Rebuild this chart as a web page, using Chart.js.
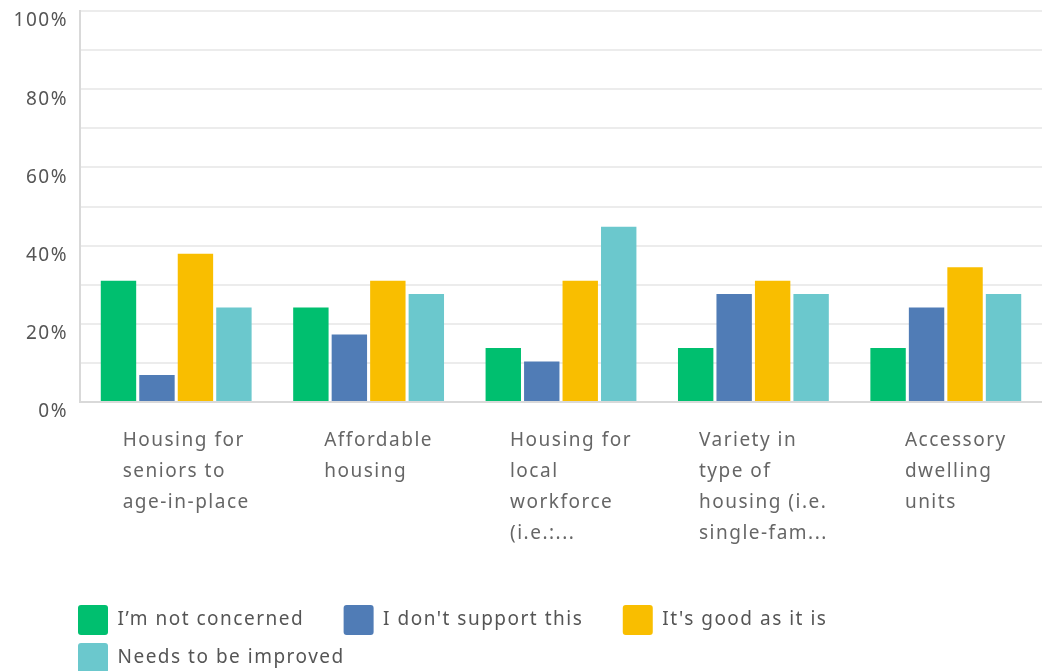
<!DOCTYPE html>
<html>
<head>
<meta charset="utf-8">
<script src="https://cdn.jsdelivr.net/npm/chart.js@4.4.1/dist/chart.umd.min.js"></script>
<style>
  html, body { margin: 0; padding: 0; background: #fff; }
  #wrap { width: 1042px; height: 671px; position: relative; }
</style>
</head>
<body>
<div id="wrap"><canvas id="housing-bar-chart"></canvas></div>
<script>
// categories (as shown, truncated like the original)
var categories = [
    ["Housing for", "seniors to", "age-in-place"],
    ["Affordable", "housing"],
    ["Housing for", "local", "workforce", "(i.e.:..."],
    ["Variety in", "type of", "housing (i.e.", "single-fam..."],
    ["Accessory", "dwelling", "units"]
];
var seriesNames = ["I\u2019m not concerned", "I don't support this", "It's good as it is", "Needs to be improved"];
var notConcerned = [31.03, 24.14, 13.79, 13.79, 13.79];
var dontSupport  = [6.90, 17.24, 10.34, 27.59, 24.14];
var goodAsIs     = [37.93, 31.03, 31.03, 31.03, 34.48];
var needsImprove = [24.14, 27.59, 44.83, 27.59, 27.59];
var yTickLabels = [0, 20, 40, 60, 80, 100];

var colors = ["#00bf6f", "#507cb6", "#f9be00", "#6bc8cd"];
var fontFamily = "'Noto Sans', sans-serif";
var letterSpacing = "1.5px";

// the original font is set wide, so space the letters a little
var spacing = {
    id: 'spacing',
    beforeUpdate: function(chart) { chart.ctx.letterSpacing = letterSpacing; },
    beforeDraw: function(chart) { chart.ctx.letterSpacing = letterSpacing; }
};

// left-aligned multi-line category labels under each group
var categoryLabels = {
    id: 'categoryLabels',
    afterDraw: function(chart) {
        var ctx = chart.ctx;
        var xScale = chart.scales.x;
        ctx.save();
        ctx.letterSpacing = letterSpacing;
        ctx.font = "19px " + fontFamily;
        ctx.fillStyle = "#666";
        ctx.textAlign = "left";
        ctx.textBaseline = "middle";
        categories.forEach(function(lines, i) {
            var maxW = 0;
            lines.forEach(function(l){ maxW = Math.max(maxW, ctx.measureText(l).width); });
            var left = xScale.getPixelForValue(i) + 10 - maxW / 2;
            lines.forEach(function(l, j){
                ctx.fillText(l, left, chart.chartArea.bottom + 39 + j * 31);
            });
        });
        ctx.restore();
    }
};

// nudge the legend to where the original puts it
var legendShift = {
    id: 'legendShift',
    afterLayout: function(chart) {
        var lg = chart.legend;
        lg.left -= 10;
        lg.right -= 10;
        lg.top += 12;
        lg.bottom += 12;
    }
};

var chartData = {
    labels: categories,
    datasets: [
        { label: seriesNames[0], data: notConcerned, backgroundColor: colors[0] },
        { label: seriesNames[1], data: dontSupport,  backgroundColor: colors[1] },
        { label: seriesNames[2], data: goodAsIs,     backgroundColor: colors[2] },
        { label: seriesNames[3], data: needsImprove, backgroundColor: colors[3] }
    ]
};

var chartOptions = {
    responsive: true,
    maintainAspectRatio: false,
    animation: false,
    layout: { padding: { top: 11, left: 0, right: 0, bottom: 0 } },
    datasets: {
        bar: { categoryPercentage: 0.8, barPercentage: 0.92 }
    },
    scales: {
        x: {
            grid: { display: false, drawTicks: false },
            border: { color: "#d9d9d9", width: 2 },
            ticks: { display: false },
            afterFit: function(scale) { scale.height = 183; }
        },
        y: {
            min: 0,
            max: 100,
            grid: { color: "#ececec", lineWidth: 2, drawTicks: false },
            border: { color: "#d9d9d9", width: 2 },
            ticks: {
                stepSize: 10,
                padding: 12,
                labelOffset: 10,
                color: "#555",
                font: { family: fontFamily, size: 19 },
                callback: function(v) {
                    return yTickLabels.indexOf(v) >= 0 ? v + "%" : "";
                }
            },
            afterFit: function(scale) {
                scale.width = 80;
                scale.paddingTop = 0;
                scale.paddingBottom = 0;
            }
        }
    },
    plugins: {
        legend: {
            position: 'bottom',
            align: 'start',
            fullSize: false,
            labels: {
                boxWidth: 30,
                boxHeight: 30,
                padding: 8,
                useBorderRadius: true,
                borderRadius: 3,
                color: "#555",
                font: { family: fontFamily, size: 19 },
                generateLabels: function(chart) {
                    var items = Chart.defaults.plugins.legend.labels.generateLabels(chart);
                    items.forEach(function(it) {
                        it.text = it.text + "\u2003\u2002";
                        it.lineWidth = 0;
                    });
                    return items;
                }
            }
        },
        tooltip: { enabled: false }
    }
};

var ctx = document.getElementById("housing-bar-chart");
var config = {
    type: 'bar',
    data: chartData,
    options: chartOptions,
    plugins: [spacing, categoryLabels, legendShift]
};

var housingChart = new Chart(ctx, config);
</script>
</body>
</html>
